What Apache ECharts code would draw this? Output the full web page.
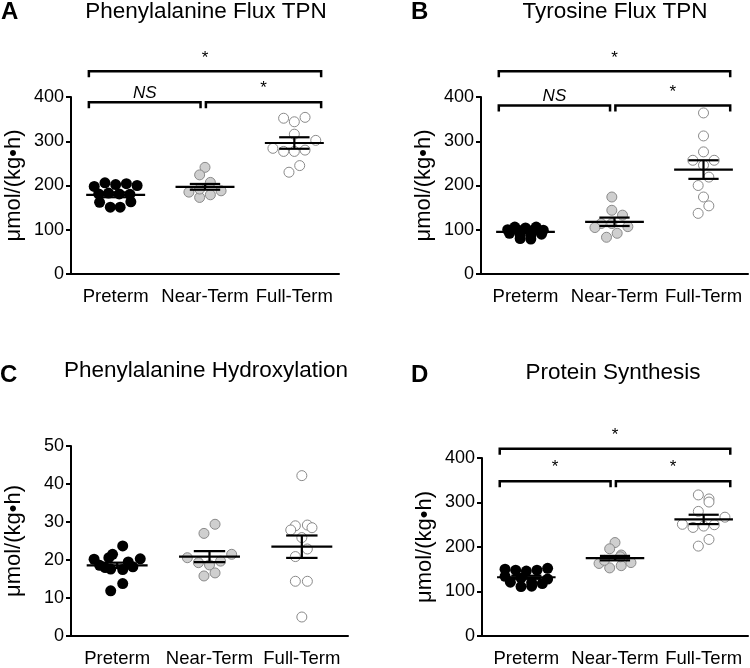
<!DOCTYPE html>
<html><head><meta charset="utf-8">
<script src="https://cdn.jsdelivr.net/npm/echarts@6/dist/echarts.min.js"></script>
<style>html,body{margin:0;padding:0;background:#fff}#c{width:750px;height:668px}</style>
</head><body><div id="c"></div><script>
const categories = ['Preterm', 'Near-Term', 'Full-Term'];
const unitLabel = 'μmol/(kg•h)';
const panelTitles = ['Phenylalanine Flux TPN', 'Tyrosine Flux TPN', 'Phenylalanine Hydroxylation', 'Protein Synthesis'];
const panelLetters = ['A', 'B', 'C', 'D'];
const yMaxes = [400, 400, 50, 400];
const yIntervals = [100, 100, 10, 100];

// Panel A: Phenylalanine flux
const pheFluxPreterm = [198, 206, 202, 204, 200, 181, 183, 181, 180, 162, 163, 151, 151];
const pheFluxPretermJitter = [-0.24, -0.12, 0, 0.12, 0.24, -0.19, -0.08, 0.04, 0.16, -0.18, 0.17, -0.06, 0.05];
const pheFluxNear = [241, 224, 207, 185, 173, 179, 188, 192];
const pheFluxNearJitter = [0, -0.06, 0.06, -0.18, -0.06, 0.06, 0.18, -0.06];
const pheFluxFull = [352, 344, 354, 316, 302, 284, 277, 277, 280, 245, 230];
const pheFluxFullJitter = [-0.12, 0, 0.12, 0, 0.24, -0.24, -0.12, 0, 0.12, 0.06, -0.06];
const pheFluxMean = [179, 197, 296];
const pheFluxSem = [5.5, 6.5, 13];
const pheFluxBrackets = [[0, 2, 458, '*'], [0, 1, 388, 'NS'], [1, 2, 388, '*']];

// Panel B: Tyrosine flux
const tyrFluxPreterm = [106, 104, 106, 100, 98, 97, 99, 92, 90, 88, 87, 80, 79];
const tyrFluxPretermJitter = [-0.12, 0, 0.12, -0.2, -0.06, 0.06, 0.2, -0.18, 0.18, -0.06, 0.06, -0.06, 0.06];
const tyrFluxNear = [174, 144, 133, 114, 114, 105, 107, 92, 83];
const tyrFluxNearJitter = [-0.03, -0.03, 0.09, -0.15, -0.03, -0.22, 0.15, 0.03, -0.09];
const tyrFluxFull = [364, 312, 276, 257, 257, 246, 219, 200, 174, 154, 137];
const tyrFluxFullJitter = [0, 0, 0, -0.12, 0.12, 0, 0.06, -0.06, 0, 0.06, -0.06];
const tyrFluxMean = [95, 118, 236];
const tyrFluxSem = [3, 9.5, 21];
const tyrFluxBrackets = [[0, 2, 458, '*'], [0, 1, 381, 'NS'], [1, 2, 381, '*']];

// Panel C: Phenylalanine hydroxylation
const hydroxPreterm = [23.7, 21.5, 20.6, 20.2, 20.3, 19.5, 18.6, 18.2, 18.0, 17.6, 17.5, 13.8, 11.9];
const hydroxPretermJitter = [0.06, -0.05, -0.09, -0.25, 0.25, 0.12, -0.19, 0.17, -0.13, -0.07, 0.06, 0.06, -0.07];
const hydroxNear = [29.4, 27.0, 20.6, 21.5, 19.3, 18.7, 19.7, 15.8, 16.6];
const hydroxNearJitter = [0.06, -0.06, -0.24, 0.24, -0.12, 0, 0.12, -0.06, 0.06];
const hydroxFull = [42.2, 29.0, 29.2, 28.5, 27.9, 25.9, 22.9, 20.9, 14.4, 14.4, 5.0];
const hydroxFullJitter = [0, -0.07, 0.06, 0.11, -0.12, 0, 0.06, -0.07, -0.07, 0.06, 0];
const hydroxMean = [18.6, 20.9, 23.5];
const hydroxSem = [0.7, 1.45, 2.95];
const hydroxBrackets = [];

// Panel D: Protein synthesis
const protSynPreterm = [150, 148, 146, 148, 152, 134, 130, 128, 121, 120, 118, 111, 112];
const protSynPretermJitter = [-0.24, -0.12, 0, 0.12, 0.24, -0.24, -0.06, 0.24, -0.18, 0.06, 0.18, -0.06, 0.06];
const protSynNear = [210, 196, 182, 163, 153, 158, 165, 178, 170];
const protSynNearJitter = [0, -0.06, 0.07, -0.18, -0.06, 0.07, 0.18, 0.06, -0.12];
const protSynFull = [317, 308, 301, 280, 267, 251, 244, 247, 250, 217, 202];
const protSynFullJitter = [-0.06, 0.06, 0.06, -0.06, 0.24, -0.24, -0.12, 0, 0.12, 0.06, -0.06];
const protSynMean = [132, 175, 262];
const protSynSem = [3.5, 5, 10.5];
const protSynBrackets = [[0, 2, 421, '*'], [0, 1, 348, '*'], [1, 2, 348, '*']];

const panels = [
  { groups: [[pheFluxPreterm, pheFluxPretermJitter], [pheFluxNear, pheFluxNearJitter], [pheFluxFull, pheFluxFullJitter]], mean: pheFluxMean, sem: pheFluxSem, brackets: pheFluxBrackets },
  { groups: [[tyrFluxPreterm, tyrFluxPretermJitter], [tyrFluxNear, tyrFluxNearJitter], [tyrFluxFull, tyrFluxFullJitter]], mean: tyrFluxMean, sem: tyrFluxSem, brackets: tyrFluxBrackets },
  { groups: [[hydroxPreterm, hydroxPretermJitter], [hydroxNear, hydroxNearJitter], [hydroxFull, hydroxFullJitter]], mean: hydroxMean, sem: hydroxSem, brackets: hydroxBrackets },
  { groups: [[protSynPreterm, protSynPretermJitter], [protSynNear, protSynNearJitter], [protSynFull, protSynFullJitter]], mean: protSynMean, sem: protSynSem, brackets: protSynBrackets }
];

// layout (pixels)
const FONT = 'Arial, "Liberation Sans", sans-serif';
const grids = [
  { left: 71, top: 97, width: 268, height: 177 },
  { left: 481, top: 97, width: 267, height: 177 },
  { left: 71, top: 446, width: 277, height: 190 },
  { left: 482, top: 458, width: 266, height: 178 }
];
const titlePos = [[206, 0], [615, 0], [206, 359], [613, 361]];
const letterPos = [[1, 0], [411, 0], [0, 363], [411, 363]];
const groupStyles = [
  { color: '#000000', borderColor: '#000000', borderWidth: 0, size: 11 },
  { color: '#cfcfcf', borderColor: '#8a8a8a', borderWidth: 1, size: 10 },
  { color: '#ffffff', borderColor: '#8a8a8a', borderWidth: 1, size: 10 }
];

function meanSemRenderer(params, api) {
  const x = api.value(0), m = api.value(1), s = api.value(2);
  const L = api.coord([x - 0.33, m]), R = api.coord([x + 0.33, m]);
  const T = api.coord([x, m + s]), B = api.coord([x, m - s]);
  const TL = api.coord([x - 0.17, m + s]), TR = api.coord([x + 0.17, m + s]);
  const BL = api.coord([x - 0.17, m - s]), BR = api.coord([x + 0.17, m - s]);
  const st = { stroke: '#000', lineWidth: 2.2 };
  const ln = (a, b) => ({ type: 'line', shape: { x1: a[0], y1: a[1], x2: b[0], y2: b[1] }, style: st });
  return { type: 'group', children: [ln(L, R), ln(T, B), ln(TL, TR), ln(BL, BR)] };
}

function bracketRenderer(brackets) {
  return function (params, api) {
    const b = brackets[params.dataIndex];
    const xl = b[0] === 0 ? b[0] - 0.3 : b[0] + 0.01;
    const xr = b[1] === 2 ? b[1] + 0.3 : b[1] - 0.05;
    const p1 = api.coord([xl, b[2]]), p2 = api.coord([xr, b[2]]);
    const tick = 6;
    const isNS = b[3] === 'NS';
    return { type: 'group', children: [
      { type: 'polyline', shape: { points: [[p1[0], p1[1] + tick], [p1[0], p1[1]], [p2[0], p2[1]], [p2[0], p2[1] + tick]] },
        style: { stroke: '#000', lineWidth: 2.5, fill: null } },
      { type: 'text', x: (p1[0] + p2[0]) / 2, y: p1[1] - (isNS ? 1 : 5),
        style: { text: b[3], textAlign: 'center', textVerticalAlign: 'bottom',
                 font: (isNS ? 'italic ' : '') + '17px ' + FONT, fill: '#000' } }
    ] };
  };
}

const option = {
  animation: false,
  backgroundColor: '#fff',
  title: [],
  grid: grids,
  xAxis: [],
  yAxis: [],
  series: []
};

panels.forEach((p, i) => {
  option.title.push({ text: panelTitles[i], left: titlePos[i][0], top: titlePos[i][1], textAlign: 'center', padding: 0,
    textStyle: { fontSize: 22.5, fontWeight: 'normal', color: '#000', fontFamily: FONT } });
  option.title.push({ text: panelLetters[i], left: letterPos[i][0], top: letterPos[i][1], padding: 0,
    textStyle: { fontSize: 24, fontWeight: 'bold', color: '#000', fontFamily: FONT } });
  option.xAxis.push({
    type: 'category', gridIndex: i, data: categories, boundaryGap: true,
    axisLine: { onZero: false, lineStyle: { color: '#000', width: 2 } },
    axisTick: { show: false },
    axisLabel: { interval: 0, fontSize: 18.5, color: '#000', margin: 13, fontFamily: FONT },
    splitLine: { show: false }
  });
  option.xAxis.push({
    type: 'value', gridIndex: i, min: -0.5, max: 2.5, show: false, splitLine: { show: false }
  });
  option.yAxis.push({
    type: 'value', gridIndex: i, min: 0, max: yMaxes[i], interval: yIntervals[i],
    name: unitLabel, nameLocation: 'middle', nameRotate: 90, nameGap: 46,
    nameTextStyle: { fontSize: 22, color: '#000', fontFamily: FONT },
    axisLine: { show: true, onZero: false, lineStyle: { color: '#000', width: 2 } },
    axisTick: { show: true, length: 5, lineStyle: { color: '#000', width: 2 } },
    axisLabel: { fontSize: 18, color: '#000', margin: 7, fontFamily: FONT },
    splitLine: { show: false }
  });
  p.groups.forEach((g, gi) => {
    const st = groupStyles[gi];
    option.series.push({
      type: 'scatter', name: categories[gi], xAxisIndex: 2 * i + 1, yAxisIndex: i,
      symbol: 'circle', symbolSize: st.size, z: 2,
      itemStyle: { color: st.color, borderColor: st.borderColor, borderWidth: st.borderWidth, opacity: 1 },
      data: g[0].map((v, k) => [gi + g[1][k], v])
    });
  });
  option.series.push({
    type: 'custom', xAxisIndex: 2 * i + 1, yAxisIndex: i, z: 5,
    renderItem: meanSemRenderer,
    data: p.mean.map((m, k) => [k, m, p.sem[k]])
  });
  if (p.brackets.length) {
    option.series.push({
      type: 'custom', xAxisIndex: 2 * i + 1, yAxisIndex: i, z: 5, clip: false,
      renderItem: bracketRenderer(p.brackets),
      data: p.brackets.map(b => [b[0], b[1], b[2]])
    });
  }
});

const chart = echarts.init(document.getElementById('c'));
chart.setOption(option);
</script></body></html>
